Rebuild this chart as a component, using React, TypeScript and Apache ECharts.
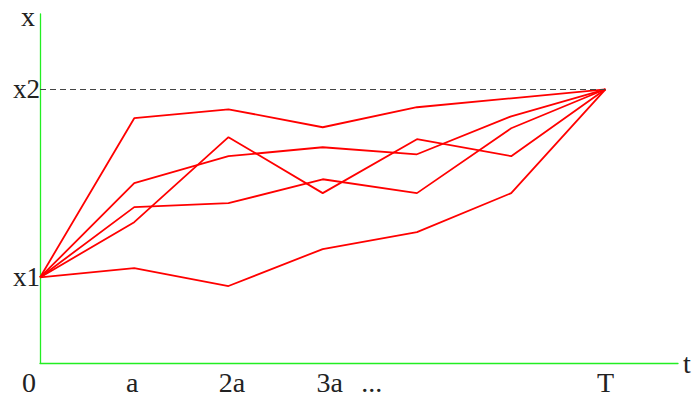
import React, { useEffect, useRef } from "react";
import * as echarts from "echarts";

// time steps: 0, a, 2a, 3a, 4a, 5a, T (=6a)
const timeSteps = [0, 1, 2, 3, 4, 5, 6];
const X1 = 5;
const X2 = 16;
const pathA = [X1, 14.31, 14.83, 13.78, 14.95, 15.47, X2];
const pathB = [X1, 10.51, 12.09, 12.61, 12.2, 14.42, X2];
const pathC = [X1, 8.23, 13.2, 9.93, 13.08, 12.09, X2];
const pathD = [X1, 9.11, 9.34, 10.74, 9.93, 13.72, X2];
const pathE = [X1, 5.55, 4.5, 6.66, 7.65, 9.93, X2];
const paths = [pathA, pathB, pathC, pathD, pathE];

const xTickLabels: Record<string, string> = {
  "0": "{z|0}",
  "1": "{a|a}",
  "2": "{b|2a}",
  "3": "{c|3a}",
  "3.5": "{d|...}",
  "6": "T",
};
const yTickLabels: Record<string, string> = { "5": "x1", "16": "x2" };

export default function App() {
  const ref = useRef<HTMLDivElement>(null);
  useEffect(() => {
    if (!ref.current) return;
    const chart = echarts.init(ref.current, undefined, { renderer: "svg" });
    const font = "'Liberation Serif', 'Times New Roman', serif";
    const green = "#22ee22";
    const txt = "#222";
    const xs = 28;
    const lab = (pad: number[]) => ({ fontFamily: font, fontSize: xs, color: txt, padding: pad });
    const series: any[] = paths.map((p) => ({
      type: "line",
      data: timeSteps.map((t, i) => [t, p[i]]),
      showSymbol: false,
      symbol: "none",
      lineStyle: { color: "#ff0000", width: 1.8 },
      silent: true,
    }));
    series.push({
      type: "line",
      data: [],
      silent: true,
      markLine: {
        symbol: "none",
        silent: true,
        label: { show: false },
        lineStyle: { color: "#444", type: [6, 4], width: 1 },
        data: [[{ coord: [0, X2] }, { coord: [6, X2] }]],
      },
    });
    chart.setOption({
      animation: false,
      grid: { left: 40, top: 14, right: 17, bottom: 36, containLabel: false, outerBoundsMode: "none" },
      xAxis: {
        type: "value",
        min: 0,
        max: 6.77,
        interval: 0.5,
        name: "t",
        nameLocation: "end",
        nameGap: 5,
        nameTextStyle: { fontFamily: font, fontSize: xs, color: txt, verticalAlign: "middle" },
        axisLine: { show: true, lineStyle: { color: green, width: 1.3 } },
        axisTick: { show: false },
        splitLine: { show: false },
        axisLabel: {
          margin: 5,
          fontFamily: font,
          fontSize: xs,
          color: txt,
          showMaxLabel: false,
          formatter: (v: number) => xTickLabels[String(v)] ?? "",
          rich: {
            z: lab([0, 22, 0, 0]),
            a: lab([0, 4, 0, 0]),
            b: lab([0, 0, 0, 7]),
            c: lab([0, 0, 0, 14]),
            d: lab([0, 0, 0, 4]),
          },
        },
      },
      yAxis: {
        type: "value",
        min: 0,
        max: 20.4,
        interval: 1,
        name: "x",
        nameLocation: "end",
        nameGap: -2,
        nameTextStyle: {
          fontFamily: font,
          fontSize: xs,
          color: txt,
          align: "center",
          verticalAlign: "middle",
          padding: [0, 24, 0, 0],
        },
        axisLine: { show: true, lineStyle: { color: green, width: 1.3 } },
        axisTick: { show: false },
        splitLine: { show: false },
        axisLabel: {
          margin: 0,
          fontFamily: font,
          fontSize: 27,
          color: txt,
          showMaxLabel: false,
          formatter: (v: number) => yTickLabels[String(v)] ?? "",
        },
      },
      series,
    });
    return () => chart.dispose();
  }, []);
  return <div ref={ref} style={{ width: 695, height: 399, position: "absolute", left: 0, top: 0 }} />;
}
